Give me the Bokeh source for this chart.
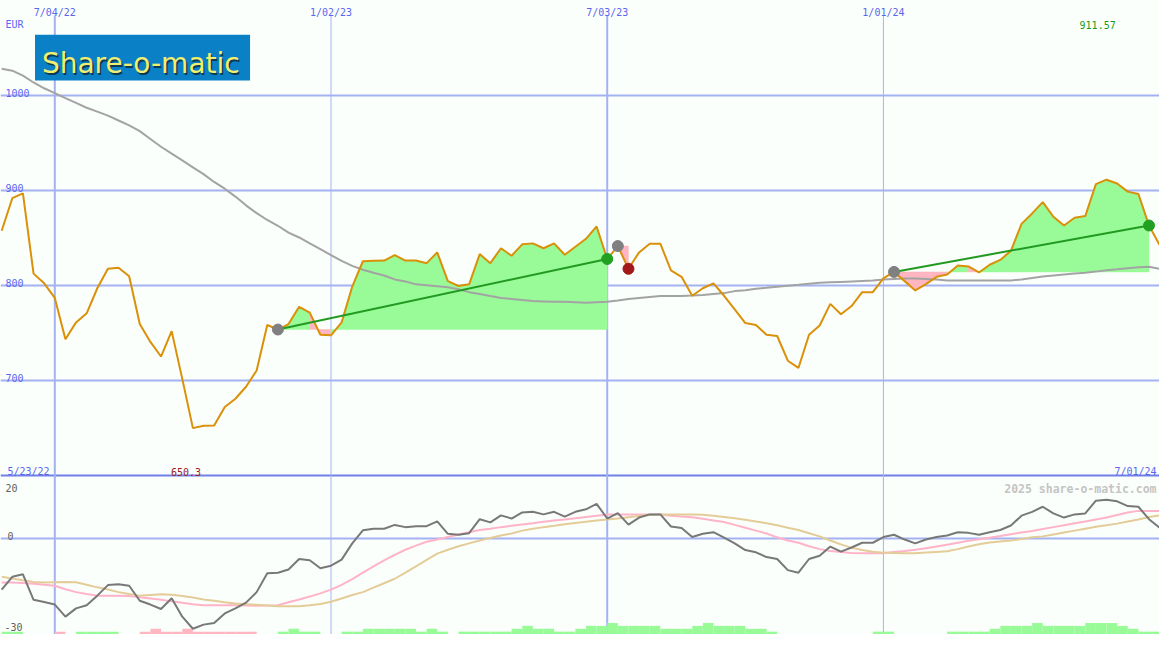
import pandas as pd
from bokeh.plotting import figure
from bokeh.models import Range1d, Label
from bokeh.embed import file_html
from bokeh.resources import INLINE

# ---------------- data ----------------
dates = pd.date_range("2022-05-30", periods=110, freq="7D")

price = [857.9, 892.1, 897.2, 812.8, 802.6, 787.2, 743.8, 761.5, 771.1, 797.4,
         817.9, 819.0, 810.1, 759.8, 741.0, 725.6, 752.3, 702.1, 650.3, 652.8,
         653.1, 672.6, 681.2, 693.8, 711.0, 758.8, 754.0, 759.8, 777.9, 771.8,
         748.5, 747.9, 761.5, 799.2, 825.8, 826.2, 826.5, 832.3, 826.5, 826.5,
         823.8, 835.1, 804.9, 799.8, 801.5, 833.3, 823.8, 839.5, 831.6, 843.6,
         844.6, 839.5, 844.6, 832.6, 841.0, 849.4, 862.4, 828.2, 841.8, 817.9,
         835.1, 844.3, 844.3, 816.2, 809.4, 789.5, 797.4, 802.6, 789.5, 775.2,
         760.8, 758.8, 748.5, 747.2, 721.2, 713.6, 748.5, 758.2, 781.0, 770.1,
         778.7, 793.3, 793.3, 807.7, 814.6, 804.9, 795.1, 801.8, 809.4, 811.8,
         821.3, 820.3, 814.0, 822.1, 827.2, 836.7, 865.1, 876.1, 888.0, 872.6,
         863.4, 871.6, 873.3, 906.9, 911.57, 907.5, 899.0, 896.6, 863.4, 842.9]

moving_avg = [1028.2, 1026.2, 1021.0, 1013.8, 1007.7, 1002.6, 997.4, 992.3, 987.2, 983.1,
              979.0, 973.8, 968.7, 962.6, 954.4, 946.2, 939.0, 931.8, 924.6, 917.4,
              909.2, 902.1, 893.8, 884.6, 876.4, 869.2, 863.1, 855.9, 850.8, 844.6,
              838.5, 832.3, 826.2, 821.0, 816.9, 813.8, 810.8, 806.7, 804.6, 801.5,
              800.5, 799.5, 798.5, 796.4, 793.3, 791.3, 789.2, 787.2, 786.2, 785.1,
              784.1, 783.6, 783.1, 783.1, 782.6, 782.1, 782.6, 783.1, 784.6, 786.2,
              787.2, 788.2, 789.2, 789.2, 789.2, 789.7, 790.3, 791.3, 792.3, 794.4,
              795.4, 796.9, 797.9, 799.0, 800.0, 801.0, 802.1, 803.1, 803.6, 804.1,
              804.6, 805.1, 805.6, 806.7, 807.2, 807.7, 807.7, 807.2, 806.7, 805.6,
              805.6, 805.6, 805.6, 805.6, 805.6, 805.6, 806.7, 808.2, 809.7, 810.8,
              811.8, 812.8, 813.8, 814.9, 816.4, 817.4, 818.5, 819.5, 820.0, 817.9]

momentum = [-15.9, -11.9, -11.1, -19.1, -19.8, -20.6, -24.4, -21.8, -20.8, -17.8,
            -14.5, -14.2, -14.7, -19.4, -20.6, -22.0, -18.6, -24.4, -28.2, -26.9,
            -26.4, -23.4, -21.8, -20.0, -16.7, -10.8, -10.6, -9.6, -6.3, -6.7,
            -9.2, -8.4, -6.5, -1.4, 2.7, 3.2, 3.2, 4.4, 3.7, 4.0,
            4.0, 5.5, 1.6, 1.3, 1.8, 6.2, 5.2, 7.4, 6.4, 8.3,
            8.5, 7.7, 8.5, 7.0, 8.5, 9.3, 11.0, 6.4, 8.1, 4.5,
            6.7, 7.7, 7.7, 3.9, 3.4, 0.6, 1.6, 2.1, 0.4, -1.4,
            -3.5, -4.2, -5.7, -6.3, -9.8, -10.6, -6.3, -5.3, -2.4, -4.0,
            -2.7, -1.2, -1.2, 0.6, 1.3, -0.2, -1.4, -0.2, 0.6, 1.1,
            2.1, 1.9, 1.3, 2.1, 2.8, 4.2, 7.3, 8.5, 10.1, 8.0,
            6.7, 7.7, 8.0, 12.0, 12.3, 11.8, 10.3, 10.1, 6.2, 3.5]

signal_fast = [-13.7, -13.7, -13.8, -14.1, -14.4, -14.7, -15.8, -16.7, -17.3, -17.8,
               -17.8, -17.8, -17.9, -18.3, -18.7, -19.1, -19.6, -20.0, -20.5, -20.8,
               -20.8, -20.8, -20.8, -20.9, -21.0, -20.9, -20.8, -19.9, -19.0, -18.1,
               -17.1, -15.9, -14.4, -12.6, -10.6, -8.6, -6.7, -5.0, -3.4, -2.1,
               -0.9, -0.2, 0.6, 1.4, 2.1, 2.8, 3.2, 3.7, 4.1, 4.5,
               4.9, 5.4, 5.8, 6.1, 6.5, 6.9, 7.3, 7.7, 7.7, 7.7,
               7.7, 7.7, 7.65, 7.3, 7.0, 6.8, 6.3, 5.8, 5.3, 4.4,
               3.5, 2.6, 1.7, 0.5, -0.5, -1.2, -2.3, -3.2, -3.8, -4.1,
               -4.4, -4.5, -4.5, -4.5, -4.1, -3.8, -3.4, -2.9, -2.4, -1.8,
               -1.2, -0.6, -0.1, 0.4, 0.9, 1.5, 2.0, 2.5, 3.1, 3.7,
               4.3, 4.9, 5.5, 6.1, 6.7, 7.5, 8.3, 8.8, 8.8, 8.8]

signal_slow = [-11.9, -12.4, -13.0, -13.5, -13.7, -13.6, -13.5, -13.6, -14.4, -15.2,
               -15.9, -16.7, -17.3, -17.8, -17.6, -17.4, -17.5, -17.9, -18.4, -19.0,
               -19.4, -19.9, -20.3, -20.5, -20.7, -20.9, -21.1, -21.1, -21.1, -20.8,
               -20.4, -19.7, -18.7, -17.6, -16.7, -15.3, -13.9, -12.5, -10.6, -8.6,
               -6.6, -4.6, -3.4, -2.3, -1.4, -0.5, 0.3, 1.1, 1.7, 2.6,
               3.2, 3.7, 4.1, 4.6, 5.0, 5.4, 5.8, 6.1, 6.4, 6.8,
               7.2, 7.5, 7.7, 7.7, 7.7, 7.65, 7.6, 7.3, 6.9, 6.5,
               6.0, 5.5, 4.9, 4.3, 3.5, 2.8, 1.8, 0.8, -0.5, -1.7,
               -2.8, -3.5, -4.0, -4.3, -4.4, -4.5, -4.5, -4.3, -4.1, -3.9,
               -3.2, -2.4, -1.7, -1.1, -0.8, -0.5, 0.0, 0.5, 0.8, 1.4,
               2.0, 2.6, 3.2, 3.8, 4.3, 4.8, 5.5, 6.1, 6.9, 7.4]

histogram = [1, 1, 0, 0, 0, -1, 0, 1, 1, 1,
             1, 0, 0, -1, -2, -1, -1, -2, -1, -1,
             -1, -1, -1, -1, 0, 0, 1, 2, 1, 1,
             0, 0, 1, 1, 2, 2, 2, 2, 2, 1,
             2, 1, 0, 1, 1, 1, 1, 1, 2, 3,
             2, 2, 1, 1, 2, 3, 3, 4, 3, 3,
             3, 3, 2, 2, 2, 3, 4, 3, 3, 3,
             2, 2, 1, 0, 0, 0, 0, 0, 0, 0,
             0, 0, 1, 1, 0, 0, 0, 0, 0, 1,
             1, 1, 1, 2, 3, 3, 3, 4, 3, 3,
             3, 3, 4, 4, 4, 3, 2, 1, 1, 0]

buy_dates = ["2022-11-28", "2023-07-10", "2024-01-08"]
sell_dates = ["2023-07-03", "2023-07-17", "2024-06-24"]

grid_prices = [700, 800, 900, 1000]
grid_dates_major = ["2022-07-04", "2023-07-03"]
grid_dates_minor = ["2023-01-02", "2024-01-01"]
grid_labels = {"2022-07-04": "7/04/22", "2023-01-02": "1/02/23",
               "2023-07-03": "7/03/23", "2024-01-01": "1/01/24"}
period_start_label = "5/23/22"
period_end_label = "7/01/24"
indicator_labels = ["20", "0", "-30"]

# ---------------- geometry ----------------
W, H = 1159, 634
REF_W, REF_H = 1175.0, 650.0
WEEK_MS = 7 * 24 * 3600 * 1000.0
WEEK_PX = 10.77
FIRST_PX = 1.2

def ms(d):
    return pd.Timestamp(d).value / 1e6

xm = [ms(d) for d in dates]
X_START = xm[0] - FIRST_PX / WEEK_PX * WEEK_MS
X_END = X_START + REF_W / WEEK_PX * WEEK_MS
Y_TOP, Y_BOT = 1100.0, 433.3

def X(px):
    return X_START + px / REF_W * (X_END - X_START)

def DX(px):
    return px / REF_W * (X_END - X_START)

def YP(px):
    return Y_TOP - px / REF_H * (Y_TOP - Y_BOT)

def DPY(px):
    return px / REF_H * (Y_TOP - Y_BOT)

BG = "#fbfffb"
GRID = "#a4b2f2"
BLUE_TXT = "#5a66f0"
GREEN_FILL = "#98fb98"
PINK_FILL = "#ffb6c1"

p = figure(width=W, height=H, output_backend="svg", toolbar_location=None,
           x_range=Range1d(X_START, X_END), y_range=Range1d(Y_BOT, Y_TOP),
           x_axis_location=None, y_axis_location=None, min_border=0)
p.extra_y_ranges = {"ind": Range1d(-30, 169)}
p.grid.visible = False
p.outline_line_color = None
p.background_fill_color = BG
p.border_fill_color = BG

# grid lines
p.hspan(y=grid_prices, line_color=GRID, line_width=2)
p.hspan(y=[0], y_range_name="ind", line_color=GRID, line_width=2)
p.hspan(y=[YP(487)], line_color="#7080e8", line_width=2)
p.segment(x0=[ms(d) for d in grid_dates_major], x1=[ms(d) for d in grid_dates_major],
          y0=YP(15), y1=Y_BOT, line_color=GRID, line_width=2)
p.segment(x0=[ms(d) for d in grid_dates_minor], x1=[ms(d) for d in grid_dates_minor],
          y0=YP(15), y1=Y_BOT, line_color=GRID, line_width=1)

# histogram bars at the bottom of the indicator panel
LEVEL = 0.9
bl, br, bt, bc = [], [], [], []
for i, h in enumerate(histogram):
    if h == 0:
        continue
    bl.append(xm[i]); br.append(xm[i] + WEEK_MS)
    bt.append(-30 + abs(h) * LEVEL)
    bc.append(GREEN_FILL if h > 0 else PINK_FILL)
p.quad(left=bl, right=br, bottom=-30, top=bt, fill_color=bc, line_color=None,
       y_range_name="ind")

# trade fills
date_idx = {pd.Timestamp(d): i for i, d in enumerate(dates)}
trades = [(date_idx[pd.Timestamp(b)], date_idx[pd.Timestamp(s)]) for b, s in zip(buy_dates, sell_dates)]
pxs, pys, pcs = [], [], []
for b, s in trades:
    base = price[b]
    runs = []
    for k in range(b, s):
        col = GREEN_FILL if price[k + 1] >= base else PINK_FILL
        if runs and runs[-1][0] == col:
            runs[-1][2] = k + 1
        else:
            runs.append([col, k, k + 1])
    for col, k0, k1 in runs:
        pxs.append([xm[k0]] + xm[k0:k1 + 1] + [xm[k1]])
        pys.append([base] + price[k0:k1 + 1] + [base])
        pcs.append(col)
p.patches(xs=pxs, ys=pys, fill_color=pcs, line_color=pcs, line_width=0.5)

# moving average
p.line(xm, moving_avg, line_color="#a3a3a3", line_width=2)

# indicator lines
p.line(xm, signal_fast, line_color="#ffb3c8", line_width=2, y_range_name="ind")
p.line(xm, signal_slow, line_color="#e4cc98", line_width=2, y_range_name="ind")
p.line(xm, momentum, line_color="#787878", line_width=2, y_range_name="ind")

# price
p.line(xm, price, line_color="#da9008", line_width=2)

# trend lines and markers
for b, s in trades:
    if price[s] >= price[b] and s - b > 1:
        p.line([xm[b], xm[s]], [price[b], price[s]], line_color="#229a22", line_width=2)
p.scatter([xm[b] for b, s in trades], [price[b] for b, s in trades], size=11,
          fill_color="#808080", line_color="#808080")
sc = ["#22a022" if price[s] >= price[b] else "#a31818" for b, s in trades]
p.scatter([xm[s] for b, s in trades], [price[s] for b, s in trades], size=11,
          fill_color=sc, line_color=sc)

MONO = "DejaVu Sans Mono"

def lab(x, y, text, color=BLUE_TXT, align="left", size="10px", style="normal", font=MONO):
    p.add_layout(Label(x=x, y=y, text=text, text_color=color, text_align=align,
                       text_baseline="alphabetic", text_font_size=size,
                       text_font=font, text_font_style=style))

# axis-like texts
lab(X(5), YP(25), "EUR")
for v in grid_prices:
    lab(X(5), v + DPY(3), str(v))
for d, t in grid_labels.items():
    lab(ms(d), YP(12.7), t, align="center")

imax = price.index(max(price))
imin = price.index(min(price))
lab(xm[imax] - DX(9), YP(25), f"{max(price):.2f}", color="#1a9a1a", align="center")
lab(X(7), YP(483), period_start_label)
lab(xm[imin] - DX(7), YP(483), f"{min(price):.1f}", color="#a01818", align="center")
lab(X(1172), YP(483), period_end_label, align="right")
lab(X(1172), YP(500.5), "2025 share-o-matic.com", color="#c4c4c4", align="right",
    size="11.5px", style="bold")
lab(X(5), YP(499.5), indicator_labels[0], color="#606060")
lab(X(7), YP(549.5), indicator_labels[1], color="#606060")
lab(X(4), YP(642), indicator_labels[2], color="#606060")

# logo
p.quad(left=X(35), right=X(253), top=YP(35), bottom=YP(82), fill_color="#0a80c6", line_color=None)
lab(X(43.5), YP(66.5), "Share-o-matic", color="#0c3a52", size="28px", font="DejaVu Sans")
lab(X(42), YP(65), "Share-o-matic", color="#f2ee70", size="28px", font="DejaVu Sans")

open("out.html", "w").write(file_html(p, INLINE))
